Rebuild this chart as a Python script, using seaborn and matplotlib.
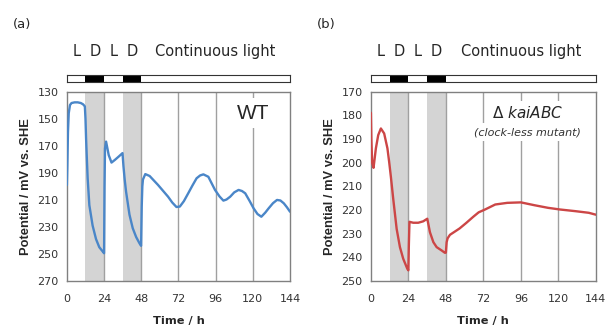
import numpy as np
import pandas as pd
import seaborn as sns
import matplotlib.pyplot as plt

# Redox potential traces
wt_time = [0, 0.3, 0.7, 1.2, 2.0, 3.0, 5.0, 7.0, 9.0, 10.5,
           11.6, 12.0, 12.4, 12.8, 13.4, 14.5, 16.6, 18.8, 20.9, 23.7,
           24.0, 24.3, 24.6, 25.3, 27.0, 28.8, 31.0, 33.5, 35.9, 36.5,
           37.3, 38.2, 40.4, 42.5, 44.7, 46.8, 47.9, 48.3, 48.7, 49.1,
           50.6, 53.4, 58.8, 65.3, 68.0, 70.7, 72.9, 75.5, 78.3, 81.0,
           83.7, 86.0, 88.1, 91.3, 95.6, 98.5, 101.0, 103.0, 105.4, 108.0,
           110.8, 113.0, 115.1, 118.0, 120.5, 123.0, 125.5, 128.0, 130.2, 133.0,
           135.6, 137.8, 140.0, 142.0, 144.0]
wt_mv = [199, 185, 160, 146, 140, 138.5, 138, 138, 138.5, 139.5,
         141, 150, 165, 177, 194, 214, 229, 239, 245, 249,
         249.5, 200, 172, 167, 177, 182.5, 180.5, 178, 175.5, 185,
         195, 204, 221, 231, 237.5, 242, 244, 215, 200, 195,
         191, 192.4, 199, 207.7, 212, 215.3, 215, 211, 205.2, 199.5,
         194.1, 192, 191.2, 193, 202.7, 207.5, 210.6, 209.8, 207.7, 204.5,
         202.7, 203.5, 205.2, 211, 216.3, 220.5, 222.5, 219.5, 216.3, 212.5,
         210.1, 210.5, 212.6, 215.5, 218.8]

kai_time = [0, 0.3, 0.8, 1.7, 3.2, 4.7, 6.4, 8.5, 10.6, 11.7,
            12.8, 14.3, 16.5, 18.6, 20.7, 23.3, 24.0, 24.3, 24.7, 27.1,
            30.3, 33.5, 36.1, 37.8, 40.0, 42.1, 45.3, 47.4, 48.0, 48.5,
            49.1, 50.6, 56.8, 61.0, 65.5, 69.0, 73.1, 79.6, 87.3, 96.0,
            104.7, 113.4, 121.0, 130.8, 139.5, 144.0]
kai_mv = [179, 190, 200, 202.2, 194, 188.4, 185.6, 187.7, 194, 199.7,
          206, 215.3, 228, 235.7, 240.6, 244.8, 245.5, 235, 225, 225.4,
          225.4, 224.8, 223.7, 229.4, 233.6, 235.7, 237.1, 238.1, 238, 233.6,
          232, 230.5, 227.8, 225.5, 222.9, 221, 219.8, 217.7, 217, 216.8,
          218, 219.1, 219.8, 220.5, 221.2, 222]

dark_periods = [(12, 24), (36, 48)]
grid_hours = [24, 48, 72, 96, 120]
x_ticks = [0, 24, 48, 72, 96, 120, 144]
ld_labels = ["L", "D", "L", "D"]
ld_hours = [6, 18, 30, 42]

sns.set_style("white")
plt.rcParams['font.family'] = ['DejaVu Sans']

fig = plt.figure(figsize=(6.08, 3.31), dpi=100)

panels = [
    dict(left=0.110, width=0.367, t=wt_time, v=wt_mv, color="#4a86c8",
         ylim=(130, 270), yticks=np.arange(130, 271, 20), tag="(a)", tagx=0.021),
    dict(left=0.610, width=0.370, t=kai_time, v=kai_mv, color="#cc4646",
         ylim=(170, 250), yticks=np.arange(170, 251, 10), tag="(b)", tagx=0.521),
]

gray = "#808080"
for i, p in enumerate(panels):
    ax = fig.add_axes([p["left"], 0.151, p["width"], 0.5725])
    for a, b in dark_periods:
        ax.axvspan(a, b, color="#d4d4d4", lw=0, zorder=0)
    for h in grid_hours:
        ax.axvline(h, color="#a0a0a0", lw=1, zorder=1)
    df = pd.DataFrame({"Time": p["t"], "mV": p["v"]})
    sns.lineplot(data=df, x="Time", y="mV", ax=ax, color=p["color"],
                 lw=1.7, zorder=4)
    ax.set_xlim(0, 144)
    ax.set_ylim(p["ylim"][1], p["ylim"][0])
    ax.set_xticks(x_ticks)
    ax.set_yticks(p["yticks"])
    ax.tick_params(axis="x", length=0, pad=9, labelsize=8, colors="#333333")
    ax.tick_params(axis="y", direction="in", length=3, pad=6, labelsize=8,
                   colors="#333333", color=gray)
    for s in ax.spines.values():
        s.set_color(gray)
        s.set_linewidth(1)
    ax.set_xlabel("Time / h", fontsize=8.2, fontweight="bold", labelpad=9)
    ax.set_ylabel("Potential / mV vs. SHE", fontsize=9.3, fontweight="bold",
                  family="Liberation Sans", labelpad=4)

    if i == 0:
        ax.text(120, 146, "WT", fontsize=15, family="Liberation Sans",
                ha="center", va="center", zorder=3,
                bbox=dict(facecolor="white", edgecolor="none", pad=4))
    else:
        ax.text(100, 179.2, "Δ $\\it{kaiABC}$", fontsize=11, ha="center",
                va="center", zorder=3,
                bbox=dict(facecolor="white", edgecolor="none", pad=3))
        ax.text(100, 187.2, "(clock-less mutant)", fontsize=8, style="italic",
                ha="center", va="center", zorder=3, color="#333333",
                bbox=dict(facecolor="white", edgecolor="none", pad=3))

    # light/dark bar above the plot
    bar = fig.add_axes([p["left"], 0.752, p["width"], 0.021])
    bar.set_xlim(0, 144)
    bar.set_ylim(0, 1)
    for a, b in dark_periods:
        bar.axvspan(a, b, color="black", lw=0)
    bar.set_xticks([])
    bar.set_yticks([])
    for s in bar.spines.values():
        s.set_color("#333333")
        s.set_linewidth(0.8)
    for lab, h in zip(ld_labels, ld_hours):
        bar.text(h, 4.4, lab, fontsize=10.5, ha="center", va="center")
    bar.text(96, 4.4, "Continuous light", fontsize=10.5, ha="center",
             va="center")

    fig.text(p["tagx"], 0.925, p["tag"], fontsize=9.5, va="center")

fig.savefig("out.png", dpi=100)
